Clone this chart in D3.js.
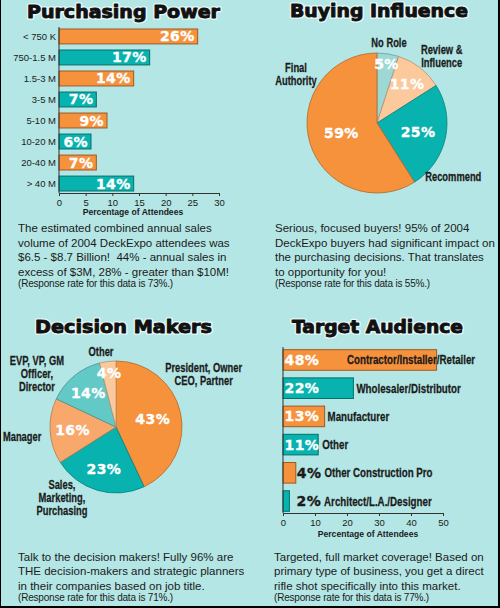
<!DOCTYPE html>
<html>
<head>
<meta charset="utf-8">
<script src="https://cdn.jsdelivr.net/npm/d3@7"></script>
<style>
  html, body { margin: 0; padding: 0; background: #b3e6e4; }
  svg { display: block; }
</style>
</head>
<body>
<svg id="chart" width="500" height="608"></svg>
<script>
// ---------- DATA ----------
const ppCategories = ["< 750 K", "750-1.5 M", "1.5-3 M", "3-5 M", "5-10 M", "10-20 M", "20-40 M", "> 40 M"];
const ppValues = [26, 17, 14, 7, 9, 6, 7, 14];
const ppTicks = [0, 5, 10, 15, 20, 25, 30];

const biLabels = ["No Role", "Review &\nInfluence", "Recommend", "Final\nAuthority"];
const biValues = [5, 11, 25, 59];

const dmLabels = ["President, Owner\nCEO, Partner", "Sales,\nMarketing,\nPurchasing", "Manager", "EVP, VP, GM\nOfficer,\nDirector", "Other"];
const dmValues = [43, 23, 16, 14, 4];

const taCategories = ["Contractor/Installer/Retailer", "Wholesaler/Distributor", "Manufacturer", "Other", "Other Construction Pro", "Architect/L.A./Designer"];
const taValues = [48, 22, 13, 11, 4, 2];
const taTicks = [0, 10, 20, 30, 40, 50];

const titles = ["Purchasing Power", "Buying Influence", "Decision Makers", "Target Audience"];
const axisTitle = "Percentage of Attendees";

const ppText = ["The estimated combined annual sales", "volume of 2004 DeckExpo attendees was", "$6.5 - $8.7 Billion!  44% - annual sales in", "excess of $3M, 28% - greater than $10M!"];
const biText = ["Serious, focused buyers! 95% of 2004", "DeckExpo buyers had significant impact on", "the purchasing decisions. That translates", "to opportunity for you!"];
const dmText = ["Talk to the decision makers! Fully 96% are", "THE decision-makers and strategic planners", "in their companies based on job title."];
const taText = ["Targeted, full market coverage! Based on", "primary type of business, you get a direct", "rifle shot specifically into this market."];
const responseRates = ["73%", "55%", "71%", "77%"];

// ---------- LAYOUT / STYLE ----------
const C = {
  bg: "#b3e6e4", orange: "#f6913c", teal: "#08b2ae",
  lightOrange: "#fcc99d", lightTeal: "#9dd8d5", midOrange: "#f9a86b", midTeal: "#62c9c7",
  ink: "#1b1b1b"
};
const heavy = "'DejaVu Sans', Verdana, sans-serif";
const sans = "'Liberation Sans', Arial, Helvetica, sans-serif";
const condScale = 0.78;

// external pie label layout: [angle in degrees clockwise from 12 o'clock, radius factor]
const biLabelLayout = [[8.5, 1.16], [44, 1.33], [125, 1.33], [301, 1.35]];
const dmLabelLayout = [[59, 1.55], [217.5, 1.345], [264, 1.43], [304, 1.445], [348.7, 1.16]];

const svg = d3.select("#chart");
svg.append("rect").attr("width", 500).attr("height", 608).attr("fill", C.bg);

function title(txt, x0, x1, y) {
  const mk = () => svg.append("text")
    .attr("x", x0).attr("y", y)
    .attr("textLength", x1 - x0).attr("lengthAdjust", "spacingAndGlyphs")
    .attr("font-family", heavy).attr("font-weight", "bold").attr("font-size", 17.5)
    .attr("stroke-linejoin", "round")
    .text(txt);
  mk().attr("fill", "#e4f7f6").attr("stroke", "#e4f7f6").attr("stroke-width", 3.6);
  mk().attr("fill", "#111").attr("stroke", "#111").attr("stroke-width", 0.9);
}

function paragraph(lines, rate, x, y0) {
  const g = svg.append("g").attr("font-family", sans).attr("fill", C.ink);
  lines.forEach((l, i) => {
    g.append("text").attr("x", x).attr("y", y0 + i * 14.5)
      .attr("font-size", 11.5).style("white-space", "pre").text(l);
  });
  g.append("text").attr("x", x).attr("y", y0 + (lines.length - 1) * 14.5 + 11.5)
    .attr("font-size", 10).attr("letter-spacing", -0.2)
    .text("(Response rate for this data is " + rate + ".)");
}

function condLabel(g, str, cx, cy, size, lh, anchor) {
  const lines = str.split("\n");
  const first = cy - (lines.length - 1) * lh / 2 + size * 0.36;
  const t = g.append("text")
    .attr("transform", `translate(${cx},${first}) scale(${condScale},1)`)
    .attr("font-family", sans).attr("font-weight", "bold").attr("font-size", size)
    .attr("fill", C.ink).attr("stroke", C.ink).attr("stroke-width", 0.25)
    .attr("text-anchor", anchor || "middle");
  lines.forEach((l, i) => {
    t.append("tspan").attr("x", 0).attr("dy", i === 0 ? 0 : lh).text(l);
  });
  return t;
}

function valueText(g, txt, x, y, anchor, fill) {
  const f = fill || "#fff";
  return g.append("text").attr("x", x).attr("y", y)
    .attr("font-family", heavy).attr("font-weight", "bold").attr("font-size", 14)
    .attr("text-anchor", anchor).attr("fill", f)
    .attr("stroke", f).attr("stroke-width", 0.35)
    .attr("letter-spacing", 0.4)
    .text(txt);
}

// ---------- PANEL 1: Purchasing Power ----------
title(titles[0], 27, 220, 17.5);
{
  const g = svg.append("g");
  const x = d3.scaleLinear().domain([0, 30]).range([59, 219]);
  const y = d3.scaleBand().domain(ppCategories).range([27, 193]).paddingInner(0.29).paddingOuter(0.095);
  g.selectAll("rect.bar").data(ppValues).join("rect")
    .attr("x", x(0)).attr("y", (d, i) => y(ppCategories[i]))
    .attr("width", d => x(d) - x(0)).attr("height", y.bandwidth())
    .attr("fill", (d, i) => i % 2 ? C.teal : C.orange)
    .attr("stroke", (d, i) => d3.color(i % 2 ? C.teal : C.orange).darker(1.3))
    .attr("stroke-width", 1);
  ppValues.forEach((d, i) => {
    valueText(g, d + "%", x(d) - 3, y(ppCategories[i]) + y.bandwidth() / 2 + 5, "end");
  });
  const ax = g.append("g").attr("transform", "translate(0,193)")
    .call(d3.axisBottom(x).tickValues(ppTicks).tickSize(3).tickSizeOuter(0));
  ax.select(".domain").attr("stroke", "#333");
  ax.selectAll(".tick line").attr("stroke", "#333");
  ax.selectAll(".tick text").attr("font-family", sans).attr("font-size", 9.5).attr("fill", C.ink);
  const ay = g.append("g").attr("transform", "translate(59,0)")
    .call(d3.axisLeft(y).tickSize(0).tickPadding(3));
  ay.select(".domain").attr("stroke", "#333").attr("d", "M0,27V193");
  ay.selectAll(".tick text").attr("font-family", sans).attr("font-size", 9.5).attr("fill", C.ink);
  g.append("text").attr("x", 133).attr("y", 215).attr("text-anchor", "middle")
    .attr("font-family", sans).attr("font-weight", "bold").attr("font-size", 8.6)
    .attr("fill", C.ink).text(axisTitle);
}
paragraph(ppText, responseRates[0], 18, 232);

// ---------- PANEL 2: Buying Influence ----------
title(titles[1], 290, 468, 17);
{
  const cx = 377, cy = 123, r = 70;
  const g = svg.append("g").attr("transform", `translate(${cx},${cy})`);
  const cols = [C.lightTeal, C.lightOrange, C.teal, C.orange];
  const arcs = d3.pie().sort(null)(biValues);
  const arc = d3.arc().innerRadius(0).outerRadius(r);
  g.selectAll("path").data(arcs).join("path")
    .attr("d", arc).attr("fill", (d, i) => cols[i])
    .attr("stroke", (d, i) => d3.color(cols[i]).darker(0.9)).attr("stroke-width", 0.8);
  arcs.forEach((a, i) => {
    const v = a.data;
    const f = v >= 40 ? 0.53 : v >= 20 ? 0.6 : v >= 10 ? 0.7 : 0.86;
    const m = (a.startAngle + a.endAngle) / 2;
    valueText(g, v + "%", Math.sin(m) * r * f, -Math.cos(m) * r * f + 5, "middle");
    const [ang, rf] = biLabelLayout[i];
    const t = ang * Math.PI / 180;
    condLabel(g, biLabels[i], Math.sin(t) * r * rf, -Math.cos(t) * r * rf, 12, 12.5);
  });
}
paragraph(biText, responseRates[1], 275, 232);

// ---------- PANEL 3: Decision Makers ----------
title(titles[2], 35, 212, 332.5);
{
  const cx = 116, cy = 427, r = 66;
  const g = svg.append("g").attr("transform", `translate(${cx},${cy})`);
  const cols = [C.orange, C.teal, C.midOrange, C.midTeal, C.lightOrange];
  const arcs = d3.pie().sort(null)(dmValues);
  const arc = d3.arc().innerRadius(0).outerRadius(r);
  g.selectAll("path").data(arcs).join("path")
    .attr("d", arc).attr("fill", (d, i) => cols[i])
    .attr("stroke", (d, i) => d3.color(cols[i]).darker(0.9)).attr("stroke-width", 0.8);
  arcs.forEach((a, i) => {
    const v = a.data;
    const f = v >= 40 ? 0.57 : v >= 10 ? 0.66 : 0.83;
    const m = (a.startAngle + a.endAngle) / 2;
    valueText(g, v + "%", Math.sin(m) * r * f, -Math.cos(m) * r * f + 5, "middle");
  });
  dmLabels.forEach((lab, i) => {
    const t = dmLabelLayout[i][0] * Math.PI / 180, rf = dmLabelLayout[i][1];
    condLabel(g, lab, Math.sin(t) * r * rf, -Math.cos(t) * r * rf, 12, 12.8);
  });
}
paragraph(dmText, responseRates[2], 18, 560.5);

// ---------- PANEL 4: Target Audience ----------
title(titles[3], 292, 463, 332.5);
{
  const g = svg.append("g");
  const x = d3.scaleLinear().domain([0, 50]).range([283, 443]);
  const y = d3.scaleBand().domain(taCategories).range([346, 515]).paddingInner(0.27).paddingOuter(0.13);
  g.selectAll("rect.bar").data(taValues).join("rect")
    .attr("x", x(0)).attr("y", (d, i) => y(taCategories[i]))
    .attr("width", d => x(d) - x(0)).attr("height", y.bandwidth())
    .attr("fill", (d, i) => i % 2 ? C.teal : C.orange)
    .attr("stroke", (d, i) => d3.color(i % 2 ? C.teal : C.orange).darker(1.3))
    .attr("stroke-width", 1);
  taValues.forEach((d, i) => {
    const yc = y(taCategories[i]) + y.bandwidth() / 2;
    const small = d < 5;
    const vx = small ? Math.max(x(d), x(0) + 12.5) + 1 : x(0) + 1.5;
    const vt = valueText(g, d + "%", vx, yc + 5, "start", small ? C.ink : "#fff");
    const vEnd = vx + vt.node().getComputedTextLength();
    const lx = d > 40 ? x(20) : Math.max(x(d) + 3, vEnd + 3);
    condLabel(g, taCategories[i], lx, yc, 12.5, 0, "start");
  });
  const ax = g.append("g").attr("transform", "translate(0,513)")
    .call(d3.axisBottom(x).tickValues(taTicks).tickSize(3).tickSizeOuter(0));
  ax.select(".domain").attr("stroke", "#333");
  ax.selectAll(".tick line").attr("stroke", "#333");
  ax.selectAll(".tick text").attr("font-family", sans).attr("font-size", 9.5).attr("fill", C.ink);
  g.append("line").attr("x1", x(0)).attr("x2", x(0)).attr("y1", 347).attr("y2", 513).attr("stroke", "#333");
  g.append("text").attr("x", 368).attr("y", 537).attr("text-anchor", "middle")
    .attr("font-family", sans).attr("font-weight", "bold").attr("font-size", 8.6)
    .attr("fill", C.ink).text(axisTitle);
}
paragraph(taText, responseRates[3], 274, 560.5);

// ---------- frame ----------
svg.append("line").attr("x1", 0.5).attr("x2", 0.5).attr("y1", 0).attr("y2", 608).attr("stroke", "#000").attr("stroke-width", 1);
svg.append("line").attr("x1", 499).attr("x2", 499).attr("y1", 0).attr("y2", 608).attr("stroke", "#000").attr("stroke-width", 2);
svg.append("line").attr("x1", 0).attr("x2", 500).attr("y1", 607).attr("y2", 607).attr("stroke", "#000").attr("stroke-width", 2);
</script>
</body>
</html>
